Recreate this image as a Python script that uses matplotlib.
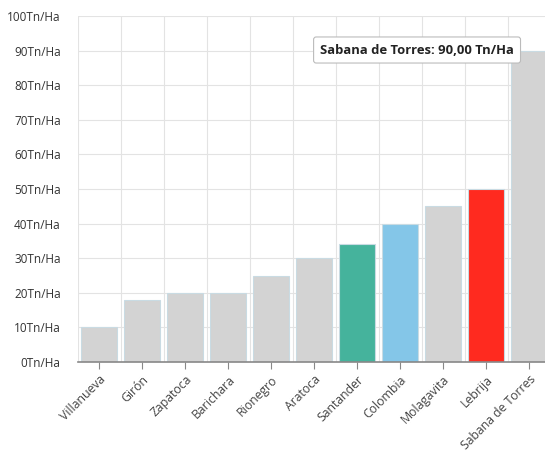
#!/usr/bin/env python3
import matplotlib
matplotlib.use("Agg")
import matplotlib.pyplot as plt
from matplotlib.ticker import FixedLocator, FuncFormatter

municipios = ["Villanueva", "Girón", "Zapatoca", "Barichara", "Rionegro", "Aratoca",
              "Santander", "Colombia", "Molagavita", "Lebrija", "Sabana de Torres"]
rendimiento = [10, 18, 20, 20, 25, 30, 34, 40, 45, 50, 90]
colores = ["#d3d3d3"] * 6 + ["#45b39c", "#84c6e8", "#d3d3d3", "#ff2a1f", "#d3d3d3"]
y_ticks = list(range(0, 101, 10))
tooltip = "Sabana de Torres: 90,00 Tn/Ha"

plt.rcParams["font.family"] = ["Open Sans", "DejaVu Sans"]

fig = plt.figure(figsize=(5.45, 4.59), dpi=100)
W, H = 545, 459
ax = fig.add_axes([77.5 / W, (H - 362) / H, (545 - 77.5) / W, (362 - 16) / H])

x = list(range(len(municipios)))
ax.bar(x, rendimiento, width=0.82, color=colores, edgecolor="#c9dbe3", linewidth=0.8, zorder=2)

ax.set_xlim(-0.5, 10.37)
ax.set_ylim(0, 100)
ax.set_yticks(y_ticks)
ax.yaxis.set_major_formatter(FuncFormatter(lambda v, p: f"{int(v)}Tn/Ha"))
ax.set_xticks(x)
ax.set_xticklabels(municipios, rotation=45, ha="right", rotation_mode="anchor")
ax.xaxis.set_minor_locator(FixedLocator([i - 0.5 for i in range(len(municipios) + 1)]))

ax.grid(axis="y", which="major", color="#e3e3e3", linewidth=0.8, zorder=0)
ax.grid(axis="x", which="minor", color="#e3e3e3", linewidth=0.8, zorder=0)
ax.tick_params(axis="y", length=0, pad=12, labelsize=8.5, labelcolor="#333333")
ax.tick_params(axis="x", which="major", length=5, color="#888888", pad=3, labelsize=8.8, labelcolor="#444444")
ax.tick_params(axis="x", which="minor", length=0)

for s in ["top", "right", "left"]:
    ax.spines[s].set_visible(False)
ax.spines["bottom"].set_color("#888888")
ax.spines["bottom"].set_linewidth(1.2)

# tooltip box, placed in figure pixels like the original hover label
fig.text(514 / W, 1 - 50 / H, tooltip, ha="right", va="center", fontsize=9.4, fontweight="bold",
         color="#222222", zorder=5,
         bbox=dict(boxstyle="round,pad=0.5,rounding_size=0.2", facecolor="white",
                   edgecolor="#bbbbbb", linewidth=0.8))

fig.savefig("out.png", dpi=100)
